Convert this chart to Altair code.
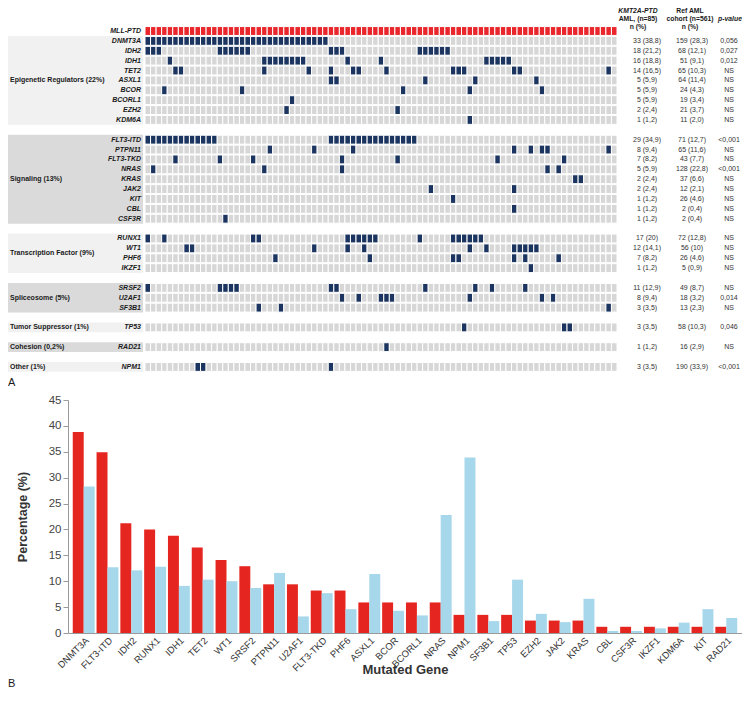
import altair as alt
import pandas as pd

# ---------------- Panel A data ----------------
N_PATIENTS = 85

groups = [
    ("Epigenetic Regulators (22%)", ["DNMT3A", "IDH2", "IDH1", "TET2", "ASXL1", "BCOR", "BCORL1", "EZH2", "KDM6A"]),
    ("Signaling (13%)", ["FLT3-ITD", "PTPN11", "FLT3-TKD", "NRAS", "KRAS", "JAK2", "KIT", "CBL", "CSF3R"]),
    ("Transcription Factor (9%)", ["RUNX1", "WT1", "PHF6", "IKZF1"]),
    ("Spliceosome  (5%)", ["SRSF2", "U2AF1", "SF3B1"]),
    ("Tumor Suppressor (1%)", ["TP53"]),
    ("Cohesion (0,2%)", ["RAD21"]),
    ("Other (1%)", ["NPM1"]),
]

# patient columns (0-based) carrying each mutation, read from the oncoprint
mutated = {
    "DNMT3A": list(range(0, 33)),
    "IDH2": [0, 1, 2, 13, 14, 15, 16, 17, 18, 33, 34, 35, 49, 50, 51, 52, 53, 54],
    "IDH1": [4, 21, 22, 23, 24, 25, 26, 27, 28, 36, 42, 61, 62, 63, 64, 65],
    "TET2": [5, 6, 21, 29, 33, 37, 38, 43, 55, 56, 57, 66, 67, 83],
    "ASXL1": [33, 34, 50, 59, 70],
    "BCOR": [3, 17, 46, 58, 71],
    "BCORL1": [26],
    "EZH2": [25, 45],
    "KDM6A": [58],
    "FLT3-ITD": list(range(0, 13)) + list(range(33, 49)),
    "PTPN11": [22, 30, 37, 66, 69, 71, 72, 83],
    "FLT3-TKD": [5, 13, 19, 35, 45, 63, 75],
    "NRAS": [1, 21, 35, 72, 74],
    "KRAS": [77, 78],
    "JAK2": [51, 66],
    "KIT": [55],
    "CBL": [66],
    "CSF3R": [14],
    "RUNX1": [0, 3, 19, 20, 36, 37, 38, 39, 40, 41, 49, 55, 56, 57, 58, 59, 60],
    "WT1": [7, 8, 30, 36, 39, 58, 61, 66, 67, 68, 69, 70],
    "PHF6": [23, 40, 55, 56, 66, 68, 74],
    "IKZF1": [69],
    "SRSF2": [0, 13, 14, 15, 16, 33, 34, 50, 59, 62, 68],
    "U2AF1": [35, 38, 42, 43, 44, 58, 71, 73],
    "SF3B1": [20, 24, 83],
    "TP53": [57, 75, 76],
    "RAD21": [43],
    "NPM1": [9, 10, 33],
}

ptd_n = ["33 (38,8)", "18 (21,2)", "16 (18,8)", "14 (16,5)", "5 (5,9)", "5 (5,9)", "5 (5,9)", "2 (2,4)", "1 (1,2)",
         "29 (34,9)", "8 (9,4)", "7 (8,2)", "5 (5,9)", "2 (2,4)", "2 (2,4)", "1 (1,2)", "1 (1,2)", "1 (1,2)",
         "17 (20)", "12 (14,1)", "7 (8,2)", "1 (1,2)",
         "11 (12,9)", "8 (9,4)", "3 (3,5)",
         "3 (3,5)", "1 (1,2)", "3 (3,5)"]
ref_n = ["159 (28,3)", "68 (12,1)", "51 (9,1)", "65 (10,3)", "64 (11,4)", "24 (4,3)", "19 (3,4)", "21 (3,7)", "11 (2,0)",
         "71 (12,7)", "65 (11,6)", "43 (7,7)", "128 (22,8)", "37 (6,6)", "12 (2,1)", "26 (4,6)", "2 (0,4)", "2 (0,4)",
         "72 (12,8)", "56 (10)", "26 (4,6)", "5 (0,9)",
         "49 (8,7)", "18 (3,2)", "13 (2,3)",
         "58 (10,3)", "16 (2,9)", "190 (33,9)"]
p_values = ["0,056", "0,027", "0,012", "NS", "NS", "NS", "NS", "NS", "NS",
            "<0,001", "NS", "NS", "<0,001", "NS", "NS", "NS", "NS", "NS",
            "NS", "NS", "NS", "NS",
            "NS", "0,014", "NS",
            "0,046", "NS", "<0,001"]

# ---------------- Panel B data ----------------
bar_genes = ["DNMT3A", "FLT3-ITD", "IDH2", "RUNX1", "IDH1", "TET2", "WT1", "SRSF2", "PTPN11", "U2AF1",
             "FLT3-TKD", "PHF6", "ASXL1", "BCOR", "BCORL1", "NRAS", "NPM1", "SF3B1", "TP53", "EZH2",
             "JAK2", "KRAS", "CBL", "CSF3R", "IKZF1", "KDM6A", "KIT", "RAD21"]
ptd_pct = [38.8, 34.9, 21.2, 20.0, 18.8, 16.5, 14.1, 12.9, 9.4, 9.4,
           8.2, 8.2, 5.9, 5.9, 5.9, 5.9, 3.5, 3.5, 3.5, 2.4,
           2.4, 2.4, 1.2, 1.2, 1.2, 1.2, 1.2, 1.2]
ref_pct = [28.3, 12.7, 12.1, 12.8, 9.1, 10.3, 10.0, 8.7, 11.6, 3.2,
           7.7, 4.6, 11.4, 4.3, 3.4, 22.8, 33.9, 2.3, 10.3, 3.7,
           2.1, 6.6, 0.4, 0.4, 0.9, 2.0, 4.6, 2.9]
cohorts = ["KMT2A-PTD AML", "Ref AML cohort"]

# ---------------- build tables ----------------
gene_slot = {"MLL-PTD": 0}
bg_rows = []
slot = 1
for gi, (gname, glist) in enumerate(groups):
    start = slot
    for g in glist:
        gene_slot[g] = slot
        slot += 1
    bg_rows.append({"group": gname, "y0": start - 0.5, "y1": slot - 0.5,
                    "mid": (start + slot - 1) / 2, "shade": "light" if gi % 2 == 0 else "dark"})
    slot += 1
bg_df = pd.DataFrame(bg_rows)

order_genes = [g for _, gl in groups for g in gl]

cells = []
for g, s in gene_slot.items():
    muts = set(mutated.get(g, []))
    for c in range(N_PATIENTS):
        if g == "MLL-PTD":
            st = "ptd"
        else:
            st = "mut" if c in muts else "wt"
        cells.append({"gene": g, "c0": c, "c1": c + 1, "y0": s - 0.45, "y1": s + 0.45, "status": st})
cell_df = pd.DataFrame(cells)

label_df = pd.DataFrame({"gene": list(gene_slot.keys()), "slot": list(gene_slot.values())})
table_df = pd.DataFrame({"gene": order_genes, "slot": [gene_slot[g] for g in order_genes],
                         "ptd": ptd_n, "ref": ref_n, "p": p_values})

# ---------------- layout ----------------
OX = 60                      # left extent shared by both panels (px)
W = 674                      # common plot width of both panels
H_TOP = 380
PPC = 472 / 85.0
X0 = 77.0                    # px of first patient column inside the top panel
ROW = 9.88
Y0 = 23.0
xs = alt.Scale(domain=[-X0 / PPC, (W - X0) / PPC], nice=False, zero=False)
ys = alt.Scale(domain=[-Y0 / ROW, (H_TOP - Y0) / ROW], nice=False, zero=False, reverse=True)
cscale = alt.Scale(domain=["wt", "mut", "ptd", "light", "dark"],
                   range=["#d7d7d7", "#1b3560", "#e8262b", "#f1f1f1", "#dadada"])

bg = alt.Chart(bg_df).mark_rect().encode(
    x=alt.value(-OX), x2=alt.value(75),
    y=alt.Y("y0:Q", scale=ys, axis=None), y2="y1:Q",
    color=alt.Color("shade:N", scale=cscale, legend=None))

grid = alt.Chart(cell_df).mark_rect(stroke="white", strokeWidth=1).encode(
    x=alt.X("c0:Q", scale=xs, axis=None), x2="c1:Q",
    y=alt.Y("y0:Q", scale=ys, axis=None), y2="y1:Q",
    color=alt.Color("status:N", scale=cscale, legend=None))

glabels = alt.Chart(label_df).mark_text(align="right", baseline="middle", fontSize=7,
                                        fontWeight="bold", fontStyle="italic", color="#1a1a1a").encode(
    x=alt.value(73), y=alt.Y("slot:Q", scale=ys, axis=None), text="gene:N")

grplabels = alt.Chart(bg_df).mark_text(align="left", baseline="middle", fontSize=7,
                                       fontWeight="bold", color="#1a1a1a").encode(
    x=alt.value(-OX + 2), y=alt.Y("mid:Q", scale=ys, axis=None), text="group:N")


def tcol(field, xpx):
    return alt.Chart(table_df).mark_text(align="center", baseline="middle", fontSize=7, color="#333").encode(
        x=alt.value(xpx), y=alt.Y("slot:Q", scale=ys, axis=None), text=f"{field}:N")


def note(txt, xpx, ypx, **kw):
    style = dict(align="center", baseline="middle", fontSize=6.8, fontWeight="bold", color="#1a1a1a")
    style.update(kw)
    return alt.Chart(pd.DataFrame({"t": [txt]})).mark_text(**style).encode(
        x=alt.value(xpx), y=alt.value(ypx), text="t:N")


top = alt.layer(
    bg, grid, glabels, grplabels,
    tcol("ptd", 579), tcol("ref", 624), tcol("p", 661),
    note("KMT2A-PTD", 570, 3, fontStyle="italic"), note("AML, (n=85)", 570, 11), note("n (%)", 570, 19),
    note("Ref AML", 622, 3), note("cohort (n=561)", 622, 11), note("n (%)", 622, 19),
    note("p-value", 662, 11, fontStyle="italic"),
    note("A", -OX, 375, align="left", fontSize=11, fontWeight="normal"),
).properties(width=W, height=H_TOP)

# ---------------- Panel B ----------------
bar_df = pd.DataFrame({
    "gene": bar_genes * 2,
    "cohort": [cohorts[0]] * len(bar_genes) + [cohorts[1]] * len(bar_genes),
    "pct": ptd_pct + ref_pct,
})

PLOT_H = 233
bars = alt.Chart(bar_df).mark_bar().encode(
    x=alt.X("gene:N", sort=bar_genes, scale=alt.Scale(paddingInner=0.08, paddingOuter=0.2),
            axis=alt.Axis(title="Mutated Gene", labelAngle=315, labelFontSize=9.5, labelColor="#333",
                          labelPadding=2, ticks=False, domainColor="#9a9a9a",
                          titleFontSize=13, titleFontWeight="bold", titleColor="#333",
                          titleY=36, titleBaseline="middle")),
    xOffset=alt.XOffset("cohort:N", sort=cohorts),
    y=alt.Y("pct:Q", scale=alt.Scale(domain=[0, 45], nice=False),
            axis=alt.Axis(values=list(range(0, 50, 5)), grid=False, title="Percentage (%)",
                          labelFontSize=11.5, labelColor="#444", tickColor="#9a9a9a", domainColor="#9a9a9a",
                          titleFontSize=12.5, titleFontWeight="bold", titleColor="#333",
                          titleX=-46, titleY=PLOT_H / 2, titleAngle=270, titleBaseline="middle",
                          titleAlign="center")),
    color=alt.Color("cohort:N", scale=alt.Scale(domain=cohorts, range=["#e5251f", "#a7d7ea"]), legend=None),
)

blabel = note("B", -OX, 284, align="left", fontSize=11, fontWeight="normal")

bottom = alt.layer(bars, blabel).properties(width=W, height=PLOT_H)

chart = alt.vconcat(top, bottom, spacing=6).resolve_scale(color="independent").properties(padding=0).configure(
    font="Liberation Sans").configure_view(strokeWidth=0)

chart.save("out.html", embed_options={"renderer": "svg", "actions": False})
